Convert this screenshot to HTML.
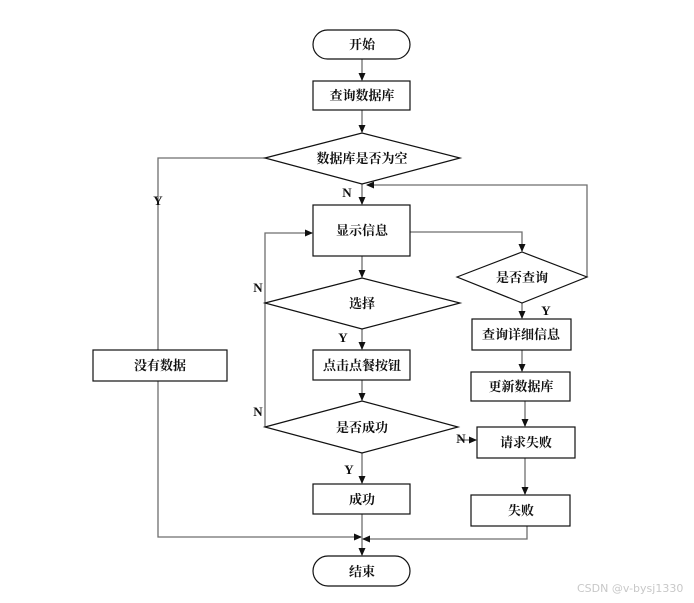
<!DOCTYPE html>
<html><head><meta charset="utf-8"><style>
html,body{margin:0;padding:0;background:#fff;}
svg{display:block;}
text{font-family:"Liberation Serif","Noto Serif CJK SC",serif;font-weight:bold;font-size:13px;fill:#111;}
.l{stroke:#6e6e6e;stroke-width:1.3;fill:none;}
.s{stroke:#111;stroke-width:1.2;fill:#fff;}
.a{fill:#111;}
.w{font-family:"DejaVu Sans","Liberation Sans",sans-serif;font-weight:normal;font-size:11px;fill:#c8c8c8;}
</style></head><body>
<svg width="694" height="603" viewBox="0 0 694 603" xmlns="http://www.w3.org/2000/svg">
<defs><marker id="ar" markerWidth="8" markerHeight="8" refX="7" refY="4" orient="auto" markerUnits="userSpaceOnUse"><path d="M0,0.5 L8,4 L0,7.5 Z" fill="#111"/></marker></defs>
<!-- connectors -->
<path class="l" d="M362,59 V80" marker-end="url(#ar)"/>
<path class="l" d="M362,110 V132" marker-end="url(#ar)"/>
<path class="l" d="M362,184 V204" marker-end="url(#ar)"/>
<path class="l" d="M265,158 H158 V537 H361" marker-end="url(#ar)"/>
<path class="l" d="M410,232 H522 V251" marker-end="url(#ar)"/>
<path class="l" d="M587,277 V185 H367" marker-end="url(#ar)"/>
<path class="l" d="M362,256 V277" marker-end="url(#ar)"/>
<path class="l" d="M265,427 V233 H312" marker-end="url(#ar)"/>
<path class="l" d="M362,329 V349" marker-end="url(#ar)"/>
<path class="l" d="M362,380 V400" marker-end="url(#ar)"/>
<path class="l" d="M362,453 V483" marker-end="url(#ar)"/>
<path class="l" d="M362,514 V555" marker-end="url(#ar)"/>
<path class="l" d="M522,303 V318" marker-end="url(#ar)"/>
<path class="l" d="M522,350 V371" marker-end="url(#ar)"/>
<path class="l" d="M525,401 V426" marker-end="url(#ar)"/>
<path class="l" d="M525,458 V494" marker-end="url(#ar)"/>
<path class="l" d="M527,526 V539 H363" marker-end="url(#ar)"/>
<path class="l" d="M458,440 H476" marker-end="url(#ar)"/>
<!-- shapes -->
<rect class="s" x="313" y="30" width="97" height="29" rx="14.5"/>
<rect class="s" x="313" y="81" width="97" height="29"/>
<polygon class="s" points="265,158 362,133 460,158 362,184"/>
<rect class="s" x="313" y="205" width="97" height="51"/>
<polygon class="s" points="457,277 522,252 587,277 522,303"/>
<polygon class="s" points="265,303 362,278 460,303 362,329"/>
<rect class="s" x="313" y="350" width="97" height="30"/>
<polygon class="s" points="265,427 362,401 458,427 362,453"/>
<rect class="s" x="313" y="484" width="97" height="30"/>
<rect class="s" x="313" y="556" width="97" height="30" rx="15"/>
<rect class="s" x="472" y="319" width="99" height="31"/>
<rect class="s" x="471" y="372" width="99" height="29"/>
<rect class="s" x="477" y="427" width="98" height="31"/>
<rect class="s" x="471" y="495" width="99" height="31"/>
<rect class="s" x="93" y="350" width="134" height="31"/>
<!-- labels -->
<g text-anchor="middle">
<text x="362" y="49">开始</text>
<text x="362" y="100">查询数据库</text>
<text x="362" y="163">数据库是否为空</text>
<text x="362" y="235">显示信息</text>
<text x="522" y="282">是否查询</text>
<text x="362" y="308">选择</text>
<text x="362" y="370">点击点餐按钮</text>
<text x="362" y="432">是否成功</text>
<text x="362" y="504">成功</text>
<text x="362" y="576">结束</text>
<text x="521" y="339">查询详细信息</text>
<text x="521" y="391">更新数据库</text>
<text x="526" y="447">请求失败</text>
<text x="521" y="515">失败</text>
<text x="160" y="370">没有数据</text>
<text x="158" y="205">Y</text>
<text x="347" y="197">N</text>
<text x="258" y="292">N</text>
<text x="258" y="416">N</text>
<text x="343" y="342">Y</text>
<text x="349" y="474">Y</text>
<text x="546" y="315">Y</text>
<text x="461" y="443">N</text>
</g>
<text class="w" x="577" y="592">CSDN @v-bysj1330</text>
</svg>
</body></html>
